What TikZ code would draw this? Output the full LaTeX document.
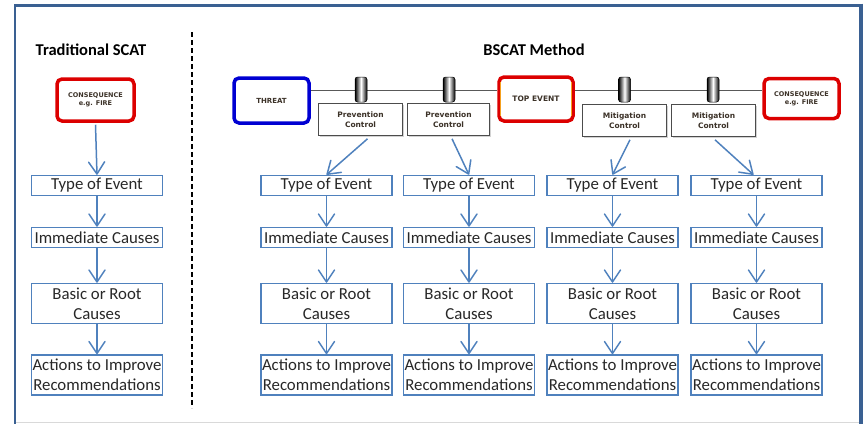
\documentclass[tikz,border=0pt]{standalone}
\usepackage{fontspec}
\setmainfont{Carlito}
\newfontfamily\lbl{DejaVu Sans}
\usetikzlibrary{arrows.meta,shadows}
\definecolor{boxblue}{RGB}{79,129,189}
\definecolor{framec}{RGB}{58,96,146}
\definecolor{textc}{RGB}{40,40,40}
\definecolor{ctrltext}{RGB}{60,50,40}
\definecolor{evred}{RGB}{220,0,0}
\definecolor{evorange}{RGB}{245,160,30}
\definecolor{thblue}{RGB}{0,0,210}
\tikzset{
  tb/.style={draw=boxblue, line width=1.5pt, fill=white, minimum width=131pt, inner sep=0pt,
    align=center, font=\fontsize{16.8}{20}\selectfont, text=textc},
  one/.style={tb, minimum height=20pt},
  two/.style={tb, minimum height=40pt},
  flow/.style={draw=boxblue, line width=1.5pt,
    -{Straight Barb[length=12pt,width=16pt,line width=1.5pt,round]}},
  ctrl/.style={draw=gray!60!black, line width=0.6pt, fill=white, minimum width=84pt, minimum height=32pt,
    inner sep=0pt, align=center, font=\lbl\bfseries\fontsize{7.5}{10}\selectfont, text=ctrltext,
    drop shadow={shadow xshift=1.5pt, shadow yshift=-1.5pt, opacity=0.35}},
  barrier/.style={draw=black, line width=0.5pt, minimum width=12pt, minimum height=25pt, inner sep=0pt,
    rounded corners=2.5pt, left color=black, right color=black, middle color=white},
  redev/.style={draw=evred, line width=3.5pt, rounded corners=5pt, fill=white, inner sep=0pt,
    align=center, font=\lbl\bfseries\fontsize{6.5}{8}\selectfont, text=ctrltext},
  blueev/.style={draw=thblue, line width=3.5pt, rounded corners=5pt, fill=white, inner sep=0pt,
    align=center, font=\lbl\bfseries\fontsize{7}{8}\selectfont, text=ctrltext},
  hline/.style={draw=gray!70!black, line width=0.8pt},
  ttl/.style={font=\bfseries\fontsize{16.5}{20}\selectfont, text=black, inner sep=0pt}
}
\begin{document}
\begin{tikzpicture}[x=1pt,y=-1pt]
\useasboundingbox (0,0) rectangle (865,424);
% frame
\draw[framec, line width=3pt] (15,5) -- (862,5);
\draw[framec, line width=2pt] (15,4) -- (15,424);
\draw[framec, line width=4pt] (861,3.5) -- (861,424);
\draw[gray!30, line width=0.8pt] (16,422) -- (859,422);
% dashed separator
\draw[black, line width=2pt, dash pattern=on 5pt off 3pt] (192,32) -- (192,408);
% titles
\node[ttl] (tl) at (91,50) {Traditional SCAT};
\node[ttl] (tr) at (534,50) {BSCAT Method};

% left column
\node[redev, minimum width=77pt, minimum height=42pt] (consL) at (95.5,100) {CONSEQUENCE\\e.g. FIRE};
\node[one] (lt) at (97,185.5) {Type of Event};
\node[one] (li) at (97,237.5) {Immediate Causes};
\node[two] (lb) at (97,303.5) {Basic or Root\\Causes};
\node[two] (la) at (97,375) {Actions to Improve\\Recommendations};
\draw[flow] ([yshift=-2pt]consL.south) -- (lt.north);
\draw[flow] (lt.south) -- (li.north);
\draw[flow] (li.south) -- (lb.north);
\draw[flow] (lb.south) -- (la.north);

% BSCAT top row
\coordinate (ly) at (0,90);
\node[blueev, minimum width=75pt, minimum height=45pt] (threat) at (271.5,100.5) {THREAT};
\node[redev, minimum width=74pt, minimum height=44pt, font=\lbl\bfseries\fontsize{7.5}{8}\selectfont] (top) at (536,99) {TOP EVENT};
\node[redev, minimum width=75pt, minimum height=40pt] (consR) at (801.5,98.5) {CONSEQUENCE\\e.g. FIRE};
\draw[evorange, line width=1.2pt] ([xshift=3pt,yshift=-7pt]top.north west) -- ([xshift=3pt,yshift=7pt]top.south west);
\draw[evorange, line width=1.2pt] ([xshift=-3pt,yshift=-7pt]top.north east) -- ([xshift=-3pt,yshift=7pt]top.south east);
\draw[hline] (threat.east |- ly) -- (top.west |- ly);
\draw[hline] (top.east |- ly) -- (consR.west |- ly);

\node[barrier] (b1) at (361,89.5) {};
\node[barrier] (b2) at (449,89.5) {};
\node[barrier] (b3) at (624.5,89.5) {};
\node[barrier] (b4) at (713,89.5) {};
\node[ctrl] (p1) at (360.5,119.5) {Prevention\\Control};
\node[ctrl, minimum width=82pt] (p2) at (448.5,119.5) {Prevention\\Control};
\node[ctrl] (m1) at (624.5,120.5) {Mitigation\\Control};
\node[ctrl] (m2) at (713.5,120.5) {Mitigation\\Control};

% BSCAT columns
\foreach \c/\x in {1/326.5, 2/469, 3/612.5, 4/756.5} {
  \node[one] (t\c) at (\x,185.5) {Type of Event};
  \node[one] (i\c) at (\x,237.5) {Immediate Causes};
  \node[two] (r\c) at (\x,303.5) {Basic or Root\\Causes};
  \node[two] (a\c) at (\x,375) {Actions to Improve\\Recommendations};
  \draw[flow] (t\c.south) -- (i\c.north);
  \draw[flow] (i\c.south) -- (r\c.north);
  \draw[flow] (r\c.south) -- (a\c.north);
}
\draw[flow] ([xshift=7pt,yshift=-3pt]p1.south) -- (t1.north);
\draw[flow] ([xshift=3.5pt,yshift=-3pt]p2.south) -- (t2.north);
\draw[flow] ([xshift=5.5pt,yshift=-3pt]m1.south) -- (t3.north);
\draw[flow] ([xshift=1.5pt,yshift=-3pt]m2.south) -- ([xshift=-3pt]t4.north);
\end{tikzpicture}
\end{document}
